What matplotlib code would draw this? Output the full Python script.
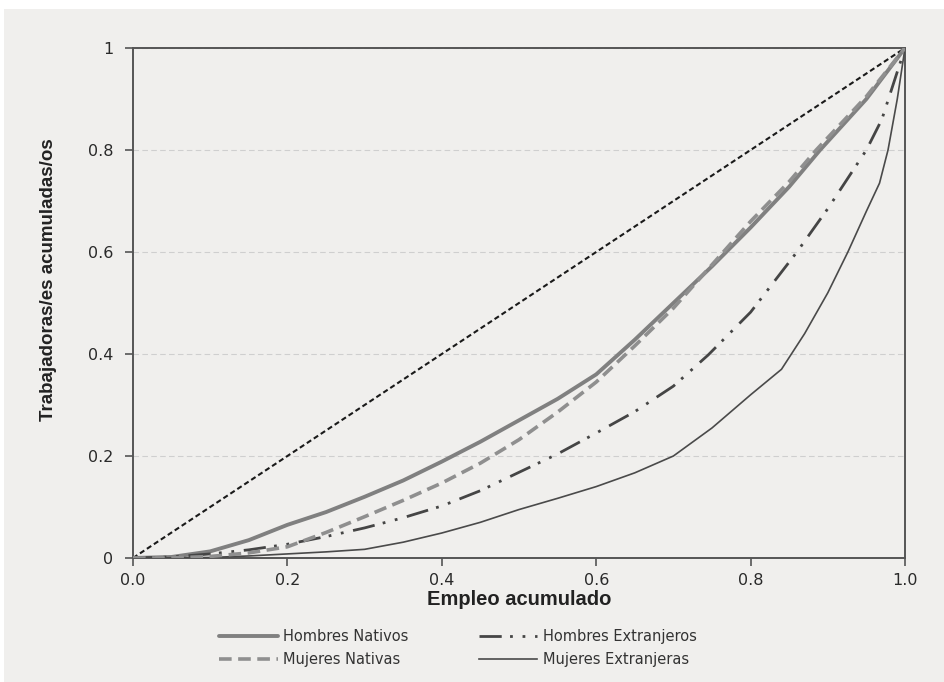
import matplotlib
matplotlib.use("Agg")
import matplotlib.pyplot as plt
from matplotlib.patches import Rectangle

# Curvas de concentración: empleo acumulado vs. trabajadoras/es acumuladas/os
hn_x = [0.0, 0.05, 0.10, 0.15, 0.20, 0.25, 0.30, 0.35, 0.40, 0.45, 0.50, 0.55, 0.60,
        0.65, 0.70, 0.75, 0.80, 0.85, 0.89, 0.95, 1.0]
hn_y = [0.0, 0.002, 0.013, 0.035, 0.065, 0.090, 0.120, 0.152, 0.189, 0.228, 0.270, 0.312, 0.360,
        0.428, 0.500, 0.572, 0.648, 0.728, 0.800, 0.900, 1.0]

mn_x = [0.0, 0.05, 0.10, 0.15, 0.20, 0.25, 0.30, 0.35, 0.40, 0.45, 0.50, 0.55, 0.60,
        0.65, 0.70, 0.75, 0.80, 0.85, 0.885, 0.95, 1.0]
mn_y = [0.0, 0.0, 0.003, 0.010, 0.022, 0.050, 0.081, 0.113, 0.147, 0.186, 0.232, 0.286, 0.345,
        0.416, 0.490, 0.575, 0.660, 0.738, 0.800, 0.905, 1.0]

he_x = [0.0, 0.05, 0.10, 0.15, 0.20, 0.25, 0.30, 0.35, 0.40, 0.45, 0.50, 0.55, 0.60,
        0.65, 0.70, 0.745, 0.80, 0.86, 0.90, 0.95, 0.97, 1.0]
he_y = [0.0, 0.002, 0.008, 0.016, 0.027, 0.042, 0.059, 0.079, 0.102, 0.132, 0.168, 0.204, 0.245,
        0.287, 0.337, 0.398, 0.482, 0.600, 0.685, 0.800, 0.860, 1.0]

me_x = [0.0, 0.10, 0.15, 0.20, 0.25, 0.30, 0.35, 0.40, 0.45, 0.50, 0.55, 0.60, 0.65, 0.70,
        0.75, 0.80, 0.84, 0.87, 0.90, 0.926, 0.95, 0.967, 0.978, 0.99, 1.0]
me_y = [0.0, 0.001, 0.004, 0.008, 0.012, 0.017, 0.031, 0.049, 0.070, 0.095, 0.117, 0.140, 0.167, 0.200,
        0.255, 0.320, 0.370, 0.440, 0.520, 0.600, 0.680, 0.735, 0.800, 0.900, 1.0]

x_ticks = [0.0, 0.2, 0.4, 0.6, 0.8, 1.0]
x_tick_labels = ["0.0", "0.2", "0.4", "0.6", "0.8", "1.0"]
y_ticks = [0.0, 0.2, 0.4, 0.6, 0.8, 1.0]
y_tick_labels = ["0", "0.2", "0.4", "0.6", "0.8", "1"]

labels = ["Hombres Nativos", "Mujeres Nativas", "Hombres Extranjeros", "Mujeres Extranjeras"]

BG = "#f0efed"
W, H = 944, 682

plt.rcParams["font.family"] = ["DejaVu Sans"]

fig = plt.figure(figsize=(W / 100, H / 100), dpi=100, facecolor="white")
fig.patches.append(Rectangle((4 / W, 0), 1, 1 - 9 / H, transform=fig.transFigure,
                             facecolor=BG, edgecolor="none", zorder=-10))

ax = fig.add_axes([133 / W, 1 - 558 / H, (905 - 133) / W, (558 - 48) / H])
ax.set_facecolor(BG)

# Líneas de referencia horizontales
for yv in y_ticks[1:]:
    ax.axhline(yv, color="#cfcfcf", lw=0.8, ls=(0, (5, 3)), zorder=0)

# Diagonal de igualdad
ax.plot([0, 1], [0, 1], color="#1a1a1a", lw=1.5, ls=(0, (2.5, 1.5)), zorder=2)

l_hn, = ax.plot(hn_x, hn_y, color="#808080", lw=2.8, solid_capstyle="round",
                solid_joinstyle="round", zorder=3)
l_mn, = ax.plot(mn_x, mn_y, color="#8f8f8f", lw=2.6, ls=(0, (3.5, 1.8)), zorder=4)
l_he, = ax.plot(he_x, he_y, color="#454545", lw=2.0, ls=(0, (8, 3, 1, 3.5, 1, 3.5)), zorder=3)
l_me, = ax.plot(me_x, me_y, color="#4a4a4a", lw=1.2, solid_joinstyle="round", zorder=3)

ax.set_xlim(0, 1)
ax.set_ylim(0, 1)
ax.set_xticks(x_ticks)
ax.set_xticklabels(x_tick_labels)
ax.set_yticks(y_ticks)
ax.set_yticklabels(y_tick_labels)
ax.tick_params(axis="both", direction="out", length=6, width=1.2, color="#555555",
               labelsize=11.5, labelcolor="#2a2a2a")
ax.tick_params(axis="x", pad=5)
ax.tick_params(axis="y", pad=8)

for s in ax.spines.values():
    s.set_color("#555555")
    s.set_linewidth(1.4)

ax.set_xlabel("Empleo acumulado", fontsize=14.5, fontweight="bold", color="#222222",
              family=["Liberation Sans", "DejaVu Sans"], labelpad=1)
ax.set_ylabel("Trabajadoras/es acumuladas/os", fontsize=13.5, fontweight="bold",
              color="#222222", family=["Liberation Sans", "DejaVu Sans"])
ax.yaxis.set_label_coords(-0.098, 0.545)

leg = fig.legend([l_hn, l_mn, l_he, l_me], labels, ncol=2, frameon=False,
                 loc="center", bbox_to_anchor=(458 / W, 1 - 648 / H),
                 fontsize=10.5, handlelength=4.0, handletextpad=0.4,
                 columnspacing=4.8, labelspacing=0.55)
for t in leg.get_texts():
    t.set_color("#333333")

fig.savefig("out.png", dpi=100, facecolor=fig.get_facecolor())
